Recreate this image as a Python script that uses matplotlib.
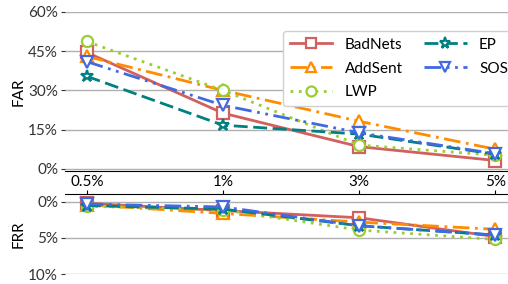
import matplotlib
matplotlib.use("Agg")
import matplotlib.pyplot as plt
from matplotlib.ticker import FuncFormatter

plt.rcParams['font.family'] = ['Lato', 'DejaVu Sans']

# poisoning rates on the x axis
rates = ["0.5%", "1%", "3%", "5%"]
methods = ["BadNets", "AddSent", "LWP", "EP", "SOS"]

# false acceptance rate (%)
far_badnets = [44.5, 21.3, 8.5, 3.2]
far_addsent = [43.0, 30.0, 18.2, 7.5]
far_lwp = [48.7, 30.0, 9.1, 5.2]
far_ep = [35.4, 16.7, 13.3, 5.6]
far_sos = [41.0, 24.3, 13.8, 5.8]

# false rejection rate (%)
frr_badnets = [0.2, 1.2, 2.2, 4.8]
frr_addsent = [0.4, 1.6, 2.8, 3.8]
frr_lwp = [0.6, 1.1, 3.9, 5.2]
frr_ep = [0.5, 1.0, 3.3, 4.6]
frr_sos = [0.3, 0.7, 3.3, 4.6]

far = [far_badnets, far_addsent, far_lwp, far_ep, far_sos]
frr = [frr_badnets, frr_addsent, frr_lwp, frr_ep, frr_sos]

colors = ["#d1605e", "#ff8c00", "#9acd32", "#008080", "#4169e1"]
markers = ["s", "^", "o", "*", "v"]
styles = ["-", (0, (6, 2, 1, 2)), (0, (1, 2)), (0, (5, 2)), (0, (6, 2, 1, 2, 1, 2))]

fig = plt.figure(figsize=(5.08, 2.84), dpi=100)
ax1 = fig.add_axes([0.128, 0.398, 0.89, 0.56])
ax2 = fig.add_axes([0.128, 0.035, 0.89, 0.282])

x = list(range(len(rates)))
pct = FuncFormatter(lambda v, p: "%d%%" % v)

for ax, data in [(ax1, far), (ax2, frr)]:
    for i in range(len(methods)):
        ax.plot(x, data[i], color=colors[i], linestyle=styles[i], linewidth=2,
                marker=markers[i], markersize=8 if markers[i] != "*" else 9,
                markerfacecolor="white", markeredgewidth=1.6, label=methods[i])
    ax.set_xlim(-0.16, 3.16)
    ax.grid(axis="y", color="#b0b0b0", linewidth=1)
    ax.set_axisbelow(True)
    for s in ["left", "right", "top", "bottom"]:
        ax.spines[s].set_visible(False)
    ax.yaxis.set_major_formatter(pct)
    ax.tick_params(axis="y", length=3, labelsize=11, colors="#333333", pad=2)

ax1.set_ylim(-0.8, 60)
ax1.set_yticks([0, 15, 30, 45, 60])
ax1.spines["bottom"].set_visible(True)
ax1.spines["bottom"].set_color("black")
ax1.set_xticks(x)
ax1.set_xticklabels(rates)
ax1.tick_params(axis="x", length=0, labelsize=11, pad=3)
ax1.set_ylabel("FAR", fontsize=11, labelpad=2)

ax2.set_ylim(10, -1.1)
ax2.set_yticks([0, 5, 10])
ax2.spines["top"].set_visible(True)
ax2.spines["top"].set_color("black")
ax2.set_xticks(x)
ax2.xaxis.tick_top()
ax2.tick_params(axis="x", length=3, labeltop=False, labelbottom=False)
ax2.set_ylabel("FRR", fontsize=11, labelpad=2)

leg = ax1.legend(ncol=2, loc="upper right", bbox_to_anchor=(1.012, 0.93),
                 fontsize=11, handlelength=2.8, columnspacing=1.4,
                 labelspacing=0.65, borderpad=0.45, framealpha=1,
                 edgecolor="#d0d0d0", markerscale=0.9)

fig.savefig("out.png", dpi=100)
